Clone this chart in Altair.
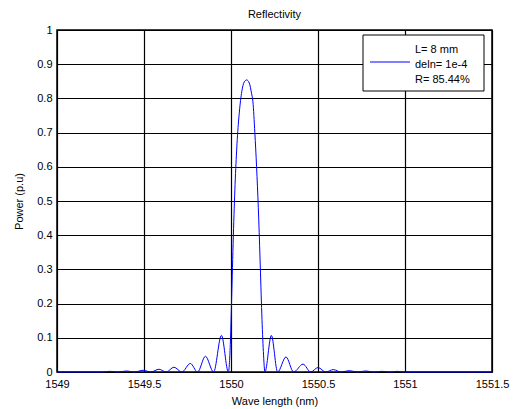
import altair as alt
import pandas as pd

# wavelength (nm) and reflected power (p.u.)
wavelength = [
    1549.000, 1549.260, 1549.305, 1549.350, 1549.400, 1549.445, 1549.494, 1549.540,
    1549.586, 1549.628, 1549.672, 1549.718, 1549.766, 1549.808, 1549.853, 1549.900,
    1549.945, 1549.985,
    1549.996, 1550.006, 1550.016, 1550.026, 1550.036, 1550.048, 1550.062, 1550.076, 1550.090,
    1550.105, 1550.118, 1550.126, 1550.137, 1550.147, 1550.157, 1550.167, 1550.177, 1550.186,
    1550.195,
    1550.232, 1550.268, 1550.316, 1550.360, 1550.414, 1550.458, 1550.500, 1550.545,
    1550.588, 1550.632, 1550.680, 1550.725, 1550.775, 1550.820, 1550.868, 1550.910,
    1550.955, 1551.000, 1551.500,
]
power = [
    0.000, 0.000, 0.002, 0.000, 0.003, 0.000, 0.005, 0.000,
    0.008, 0.000, 0.014, 0.000, 0.025, 0.000, 0.046, 0.000,
    0.107, 0.000,
    0.080, 0.260, 0.440, 0.580, 0.680, 0.760, 0.820, 0.848, 0.854,
    0.845, 0.815, 0.790, 0.700, 0.600, 0.480, 0.330, 0.170, 0.060,
    0.000,
    0.107, 0.000, 0.044, 0.000, 0.023, 0.000, 0.013, 0.000,
    0.007, 0.000, 0.004, 0.000, 0.003, 0.000, 0.002, 0.000,
    0.002, 0.000, 0.000,
]
x_ticks = [1549, 1549.5, 1550, 1550.5, 1551, 1551.5]
y_ticks = [0, 0.1, 0.2, 0.3, 0.4, 0.5, 0.6, 0.7, 0.8, 0.9, 1.0]
legend_lines = ["L= 8 mm", "deln= 1e-4", "R= 85.44%"]

FONT = "Liberation Sans"
df = pd.DataFrame({"wl": wavelength, "p": power})

axis_style = dict(
    grid=True, ticks=False, domain=False,
    gridColor="black", gridOpacity=1, gridWidth=1.2,
    labelFont=FONT, labelFontSize=11, labelColor="black",
    titleFont=FONT, titleFontSize=11, titleFontWeight="normal", titleColor="black",
)

curve = alt.Chart(df).mark_line(color="#0000ff", strokeWidth=1, interpolate="monotone").encode(
    x=alt.X("wl:Q", scale=alt.Scale(domain=[1549, 1551.5], nice=False, zero=False),
            axis=alt.Axis(values=x_ticks, format="~g", title="Wave length (nm)",
                          labelPadding=6, titlePadding=6, labelFlush=False, **axis_style)),
    y=alt.Y("p:Q", scale=alt.Scale(domain=[0, 1], nice=False),
            axis=alt.Axis(values=y_ticks, format="~g", title="Power (p.u)",
                          labelPadding=5, titlePadding=12, **axis_style)),
)

one = pd.DataFrame({"a": [0]})
box = alt.Chart(one).mark_rect(fill="white", stroke="black", strokeWidth=1).encode(
    x=alt.value(306), x2=alt.value(427), y=alt.value(5), y2=alt.value(61)
)
sample = alt.Chart(one).mark_rule(color="#0000ff", strokeWidth=1).encode(
    x=alt.value(313), x2=alt.value(353), y=alt.value(32)
)
text_layers = []
for txt, ypos in zip(legend_lines, [20, 35, 50]):
    text_layers.append(
        alt.Chart(one).mark_text(
            align="left", baseline="middle", font=FONT, fontSize=11, color="black", text=txt
        ).encode(x=alt.value(358), y=alt.value(ypos))
    )

chart = alt.layer(curve, box, sample, *text_layers).properties(
    width=435, height=342,
    title=alt.TitleParams("Reflectivity", font=FONT, fontSize=11, fontWeight="normal",
                          anchor="middle", offset=4, color="black"),
    autosize=alt.AutoSizeParams(type="none"),
    padding={"left": 57, "top": 30, "right": 24, "bottom": 37},
).configure(
    background="white",
    view=alt.ViewConfig(stroke="black", strokeWidth=1.5),
)

chart.save("out.html", embed_options={"renderer": "svg", "actions": False})
